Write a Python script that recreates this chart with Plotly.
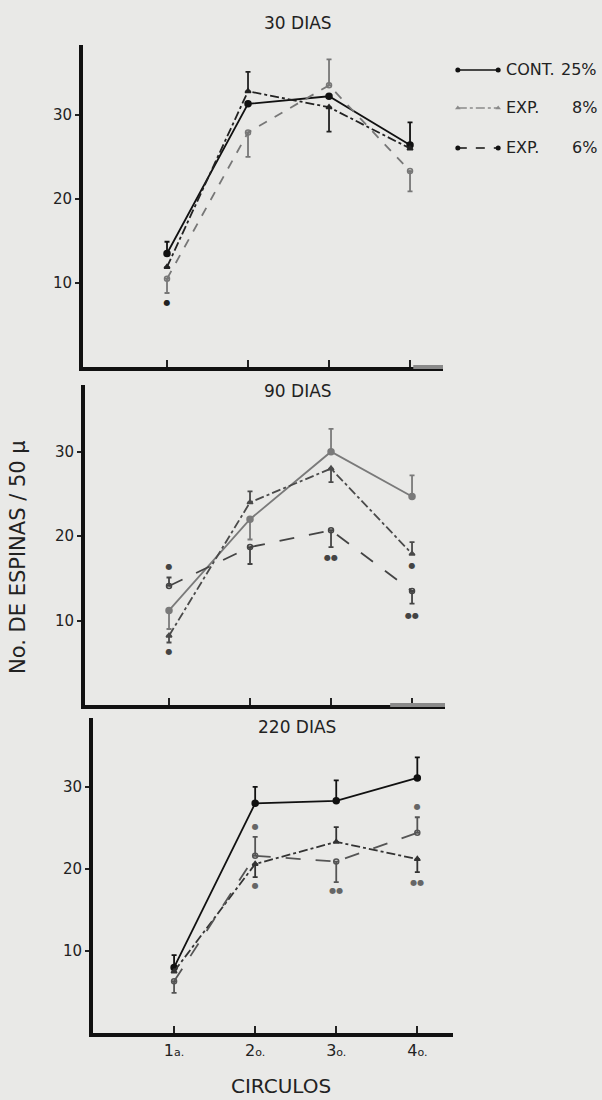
import plotly.graph_objects as go

W, H = 602, 1100
FONT = "DejaVu Sans"
BG = "#e9e9e7"

cats = [1, 2, 3, 4]
tick_labels = ["1<span style='font-size:11px'>a.</span>", "2<span style='font-size:11px'>o.</span>",
               "3<span style='font-size:11px'>o.</span>", "4<span style='font-size:11px'>o.</span>"]
series_names = ["CONT.", "EXP.", "EXP."]
series_pct = ["25%", "8%", "6%"]
panel_titles = ["30 DIAS", "90 DIAS", "220 DIAS"]

# --- 30 dias ---
d30_cont = [13.5, 31.3, 32.2, 26.4]
d30_cont_up = [1.4, 0, 0, 2.7]
d30_cont_dn = [0, 0, 0, 0]
d30_e8 = [11.9, 32.8, 30.9, 26.0]
d30_e8_up = [0, 2.3, 0, 0]
d30_e8_dn = [0, 0, 2.9, 0]
d30_e6 = [10.5, 27.9, 33.5, 23.3]
d30_e6_up = [0, 0, 3.1, 0]
d30_e6_dn = [1.7, 2.9, 0, 2.4]
sig30_x = [1]
sig30_y = [7.6]
sig30_t = ["●"]

# --- 90 dias ---
d90_cont = [11.2, 22.0, 30.0, 24.7]
d90_cont_up = [0, 0, 2.7, 2.5]
d90_cont_dn = [2.2, 2.4, 0, 0]
d90_e8 = [8.2, 24.0, 28.0, 17.9]
d90_e8_up = [0, 1.3, 0, 1.4]
d90_e8_dn = [0.8, 0, 1.6, 0]
d90_e6 = [14.1, 18.7, 20.7, 13.5]
d90_e6_up = [1.0, 0, 0, 0]
d90_e6_dn = [0, 2.0, 2.0, 1.5]
sig90_x = [1, 1, 3, 4, 4]
sig90_y = [16.4, 6.3, 17.4, 16.5, 10.5]
sig90_t = ["●", "●", "●●", "●", "●●"]

# --- 220 dias ---
d220_cont = [8.0, 28.0, 28.3, 31.1]
d220_cont_up = [1.5, 2.0, 2.5, 2.5]
d220_cont_dn = [0, 0, 0, 0]
d220_e8 = [7.5, 20.6, 23.3, 21.2]
d220_e8_up = [0, 0, 1.8, 0]
d220_e8_dn = [0, 1.6, 0, 1.6]
d220_e6 = [6.3, 21.6, 20.9, 24.4]
d220_e6_up = [0, 2.3, 0, 1.9]
d220_e6_dn = [1.4, 0, 2.5, 0]
sig220_x = [2, 2, 3, 4, 4]
sig220_y = [25.1, 17.9, 17.3, 27.6, 18.3]
sig220_t = ["●", "●", "●●", "●", "●●"]

panels = [
    dict(cont=(d30_cont, d30_cont_up, d30_cont_dn), e8=(d30_e8, d30_e8_up, d30_e8_dn),
         e6=(d30_e6, d30_e6_up, d30_e6_dn), sig=(sig30_x, sig30_y, sig30_t),
         colors=("#111111", "#222222", "#777777"), sigcol="#222222"),
    dict(cont=(d90_cont, d90_cont_up, d90_cont_dn), e8=(d90_e8, d90_e8_up, d90_e8_dn),
         e6=(d90_e6, d90_e6_up, d90_e6_dn), sig=(sig90_x, sig90_y, sig90_t),
         colors=("#7a7a7a", "#4a4a4a", "#444444"), sigcol="#444444"),
    dict(cont=(d220_cont, d220_cont_up, d220_cont_dn), e8=(d220_e8, d220_e8_up, d220_e8_dn),
         e6=(d220_e6, d220_e6_up, d220_e6_dn), sig=(sig220_x, sig220_y, sig220_t),
         colors=("#111111", "#333333", "#555555"), sigcol="#666666"),
]

geom = [
    dict(x0=83, x1=443, yt=45, yb=367, xr=[-0.037, 4.407], yr=[0, 38.3]),
    dict(x0=85, x1=445, yt=385, yb=705, xr=[-0.037, 4.407], yr=[0, 37.9]),
    dict(x0=93, x1=453, yt=718, yb=1033, xr=[0.0, 4.44], yr=[0, 38.4]),
]

fig = go.Figure()

styles = [
    ("cont", "solid", "circle", 6),
    ("e8", "dashdot", "triangle-up", 5),
    ("e6", "dash", "circle-open", 5),
]

for i, p in enumerate(panels):
    xa = "x" if i == 0 else f"x{i+1}"
    ya = "y" if i == 0 else f"y{i+1}"
    for k, (key, dash, sym, ms) in enumerate(styles):
        vals, up, dn = p[key]
        col = p["colors"][k]
        d = dash
        if i > 0 and key == "e6":
            d = "longdash"
        fig.add_trace(go.Scatter(
            x=cats, y=vals, xaxis=xa, yaxis=ya, mode="lines+markers",
            line=dict(color=col, width=1.8, dash=d),
            marker=dict(symbol=sym, size=ms, color=col, line=dict(color=col, width=1.5)),
            error_y=dict(type="data", symmetric=False, array=up, arrayminus=dn,
                         color=col, thickness=1.8, width=2.5),
            showlegend=False, hoverinfo="skip"))
    sx, sy, st = p["sig"]
    fig.add_trace(go.Scatter(
        x=sx, y=sy, xaxis=xa, yaxis=ya, mode="text", text=st,
        textfont=dict(size=8, color=p["sigcol"], family=FONT),
        showlegend=False, hoverinfo="skip"))

layout = dict(
    width=W, height=H, margin=dict(l=0, r=0, t=0, b=0),
    paper_bgcolor=BG, plot_bgcolor=BG, showlegend=False,
    font=dict(family=FONT, color="#222222"),
)

for i, g in enumerate(geom):
    xk = "xaxis" if i == 0 else f"xaxis{i+1}"
    yk = "yaxis" if i == 0 else f"yaxis{i+1}"
    ya = "y" if i == 0 else f"y{i+1}"
    xa = "x" if i == 0 else f"x{i+1}"
    layout[xk] = dict(
        domain=[g["x0"] / W, g["x1"] / W], range=g["xr"], anchor=ya,
        showline=True, linecolor="#111111", linewidth=4, showgrid=False, zeroline=False,
        ticks="inside", ticklen=7, tickwidth=2, tickcolor="#222222",
        tickvals=cats, ticktext=tick_labels, showticklabels=(i == 2),
        tickfont=dict(size=16, family=FONT, color="#222222"), fixedrange=True)
    layout[yk] = dict(
        domain=[1 - g["yb"] / H, 1 - g["yt"] / H], range=g["yr"], anchor=xa,
        showline=True, linecolor="#111111", linewidth=4, showgrid=False, zeroline=False,
        ticks="outside", ticklen=4, tickwidth=2, tickcolor="#222222",
        tickvals=[10, 20, 30], tickfont=dict(size=15, family=FONT, color="#222222"),
        fixedrange=True)

# legend samples drawn on their own small axis pair
layout["xaxis4"] = dict(domain=[455 / W, 501 / W], range=[-0.07, 1.07], anchor="y4",
                        visible=False, fixedrange=True)
layout["yaxis4"] = dict(domain=[1 - 165 / H, 1 - 55 / H], range=[-165, -55], anchor="x4",
                        visible=False, fixedrange=True)
leg_rows = [-70, -108, -148]
leg_styles = [("solid", "circle", "#111111"), ("dashdot", "triangle-up", "#8a8a8a"),
              ("dash", "circle", "#111111")]
for r, (d, sym, col) in zip(leg_rows, leg_styles):
    fig.add_trace(go.Scatter(x=[0, 1], y=[r, r], xaxis="x4", yaxis="y4", mode="lines+markers",
                             line=dict(color=col, width=1.5, dash=d),
                             marker=dict(symbol=sym, size=5, color=col),
                             showlegend=False, hoverinfo="skip"))

fig.update_layout(**layout)

ann = []
title_pos = [(298, 23), (298, 391), (297, 727)]
for t, (px, py) in zip(panel_titles, title_pos):
    ann.append(dict(text=t, x=px / W, y=1 - py / H, xref="paper", yref="paper",
                    xanchor="center", yanchor="middle", showarrow=False,
                    font=dict(size=17, family=FONT, color="#222222")))
for name, pct, r in zip(series_names, series_pct, [70, 108, 148]):
    ann.append(dict(text=name, x=504 / W, y=1 - r / H, xref="paper", yref="paper",
                    xanchor="left", yanchor="middle", showarrow=False,
                    font=dict(size=16, family=FONT, color="#222222")))
    ann.append(dict(text=pct, x=599 / W, y=1 - r / H, xref="paper", yref="paper",
                    xanchor="right", yanchor="middle", showarrow=False,
                    font=dict(size=16, family=FONT, color="#222222")))
ann.append(dict(text="No. DE ESPINAS / 50 µ", x=18 / W, y=1 - 557 / H, xref="paper", yref="paper",
                xanchor="center", yanchor="middle", textangle=-90, showarrow=False,
                font=dict(size=21, family=FONT, color="#222222")))
ann.append(dict(text="CIRCULOS", x=281 / W, y=1 - 1086 / H, xref="paper", yref="paper",
                xanchor="center", yanchor="middle", showarrow=False,
                font=dict(size=20, family=FONT, color="#222222")))

shapes = [
    dict(type="line", xref="x", yref="paper", x0=4.04, x1=4.407,
         y0=1 - 367 / H, y1=1 - 367 / H, line=dict(color="#8a8a8a", width=4)),
    dict(type="line", xref="x2", yref="paper", x0=3.73, x1=4.407,
         y0=1 - 705 / H, y1=1 - 705 / H, line=dict(color="#8a8a8a", width=4)),
]
fig.update_layout(annotations=ann, shapes=shapes)

fig.write_html("out.html")
